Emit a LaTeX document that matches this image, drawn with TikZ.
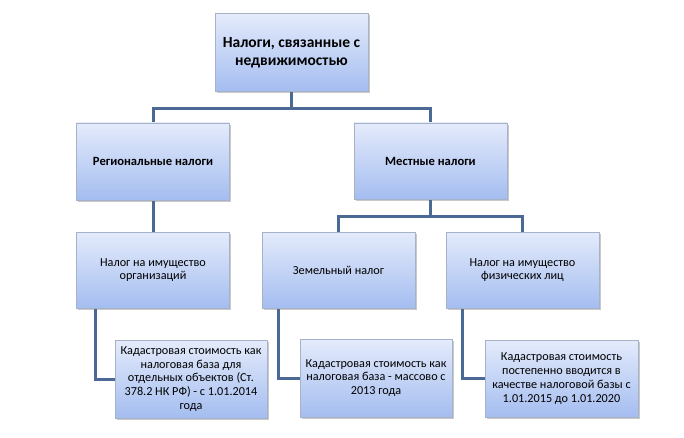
\documentclass[tikz,border=0pt]{standalone}
\usepackage{fontspec}
\setmainfont{Carlito}
\usetikzlibrary{calc,shadows,backgrounds}
\definecolor{boxtop}{RGB}{228,235,251}
\definecolor{boxbot}{RGB}{164,189,240}
\definecolor{boxline}{RGB}{165,178,200}
\definecolor{conn}{RGB}{74,106,149}
\tikzset{
  box/.style={rectangle, draw=boxline, line width=0.6pt, top color=boxtop, bottom color=boxbot,
    align=center, inner sep=1pt, font=\fontsize{12.2}{13.8}\selectfont,
    drop shadow={shadow xshift=1.8pt, shadow yshift=-1.8pt, opacity=0.35, fill=black!60}},
  conline/.style={draw=conn, line width=3pt}
}
\begin{document}
\begin{tikzpicture}[x=1pt,y=1pt]
\useasboundingbox (0,0) rectangle (684,-438);
\node[box, minimum width=153, minimum height=78, font=\bfseries\fontsize{15.5}{18.5}\selectfont] (top) at (291.5,-52.5) {Налоги, связанные с\\недвижимостью};
\node[box, minimum width=153, minimum height=77, font=\bfseries\fontsize{12.6}{14}\selectfont] (reg) at (153,-161.5) {Региональные налоги};
\node[box, minimum width=153, minimum height=76, font=\bfseries\fontsize{12.6}{14}\selectfont] (mest) at (430.5,-161) {Местные налоги};
\node[box, minimum width=153, minimum height=76] (org) at (153,-270) {Налог на имущество\\организаций};
\node[box, minimum width=153, minimum height=76] (zem) at (338.5,-270) {Земельный налог};
\node[box, minimum width=153, minimum height=76] (fiz) at (522.5,-270) {Налог на имущество\\физических лиц};
\node[box, minimum width=152, minimum height=78] (c1) at (191,-379) {Кадастровая стоимость как\\налоговая база для\\отдельных объектов (Ст.\\378.2 НК РФ) - с 1.01.2014\\года};
\node[box, minimum width=152, minimum height=78] (c2) at (376,-378) {Кадастровая стоимость как\\налоговая база - массово с\\2013 года};
\node[box, minimum width=153, minimum height=77] (c3) at (561.5,-378.5) {Кадастровая стоимость\\постепенно вводится в\\качестве налоговой базы с\\1.01.2015 до 1.01.2020};
\begin{scope}[on background layer]
\fill[white] (0,0) rectangle (684,-438);
\draw[conline] (top.south) -- ++(0,-17) -| (reg.north);
\draw[conline] (top.south) -- ++(0,-17) -| (mest.north);
\draw[conline] (reg.south) -- (org.north);
\draw[conline] (mest.south) -- ++(0,-17) -| (zem.north);
\draw[conline] (mest.south) -- ++(0,-17) -| (fiz.north);
\draw[conline] ($(org.south west)+(19,0)$) |- (c1.west);
\draw[conline] ($(zem.south west)+(17,0)$) |- (c2.west);
\draw[conline] ($(fiz.south west)+(17,0)$) |- (c3.west);
\end{scope}
\end{tikzpicture}
\end{document}
